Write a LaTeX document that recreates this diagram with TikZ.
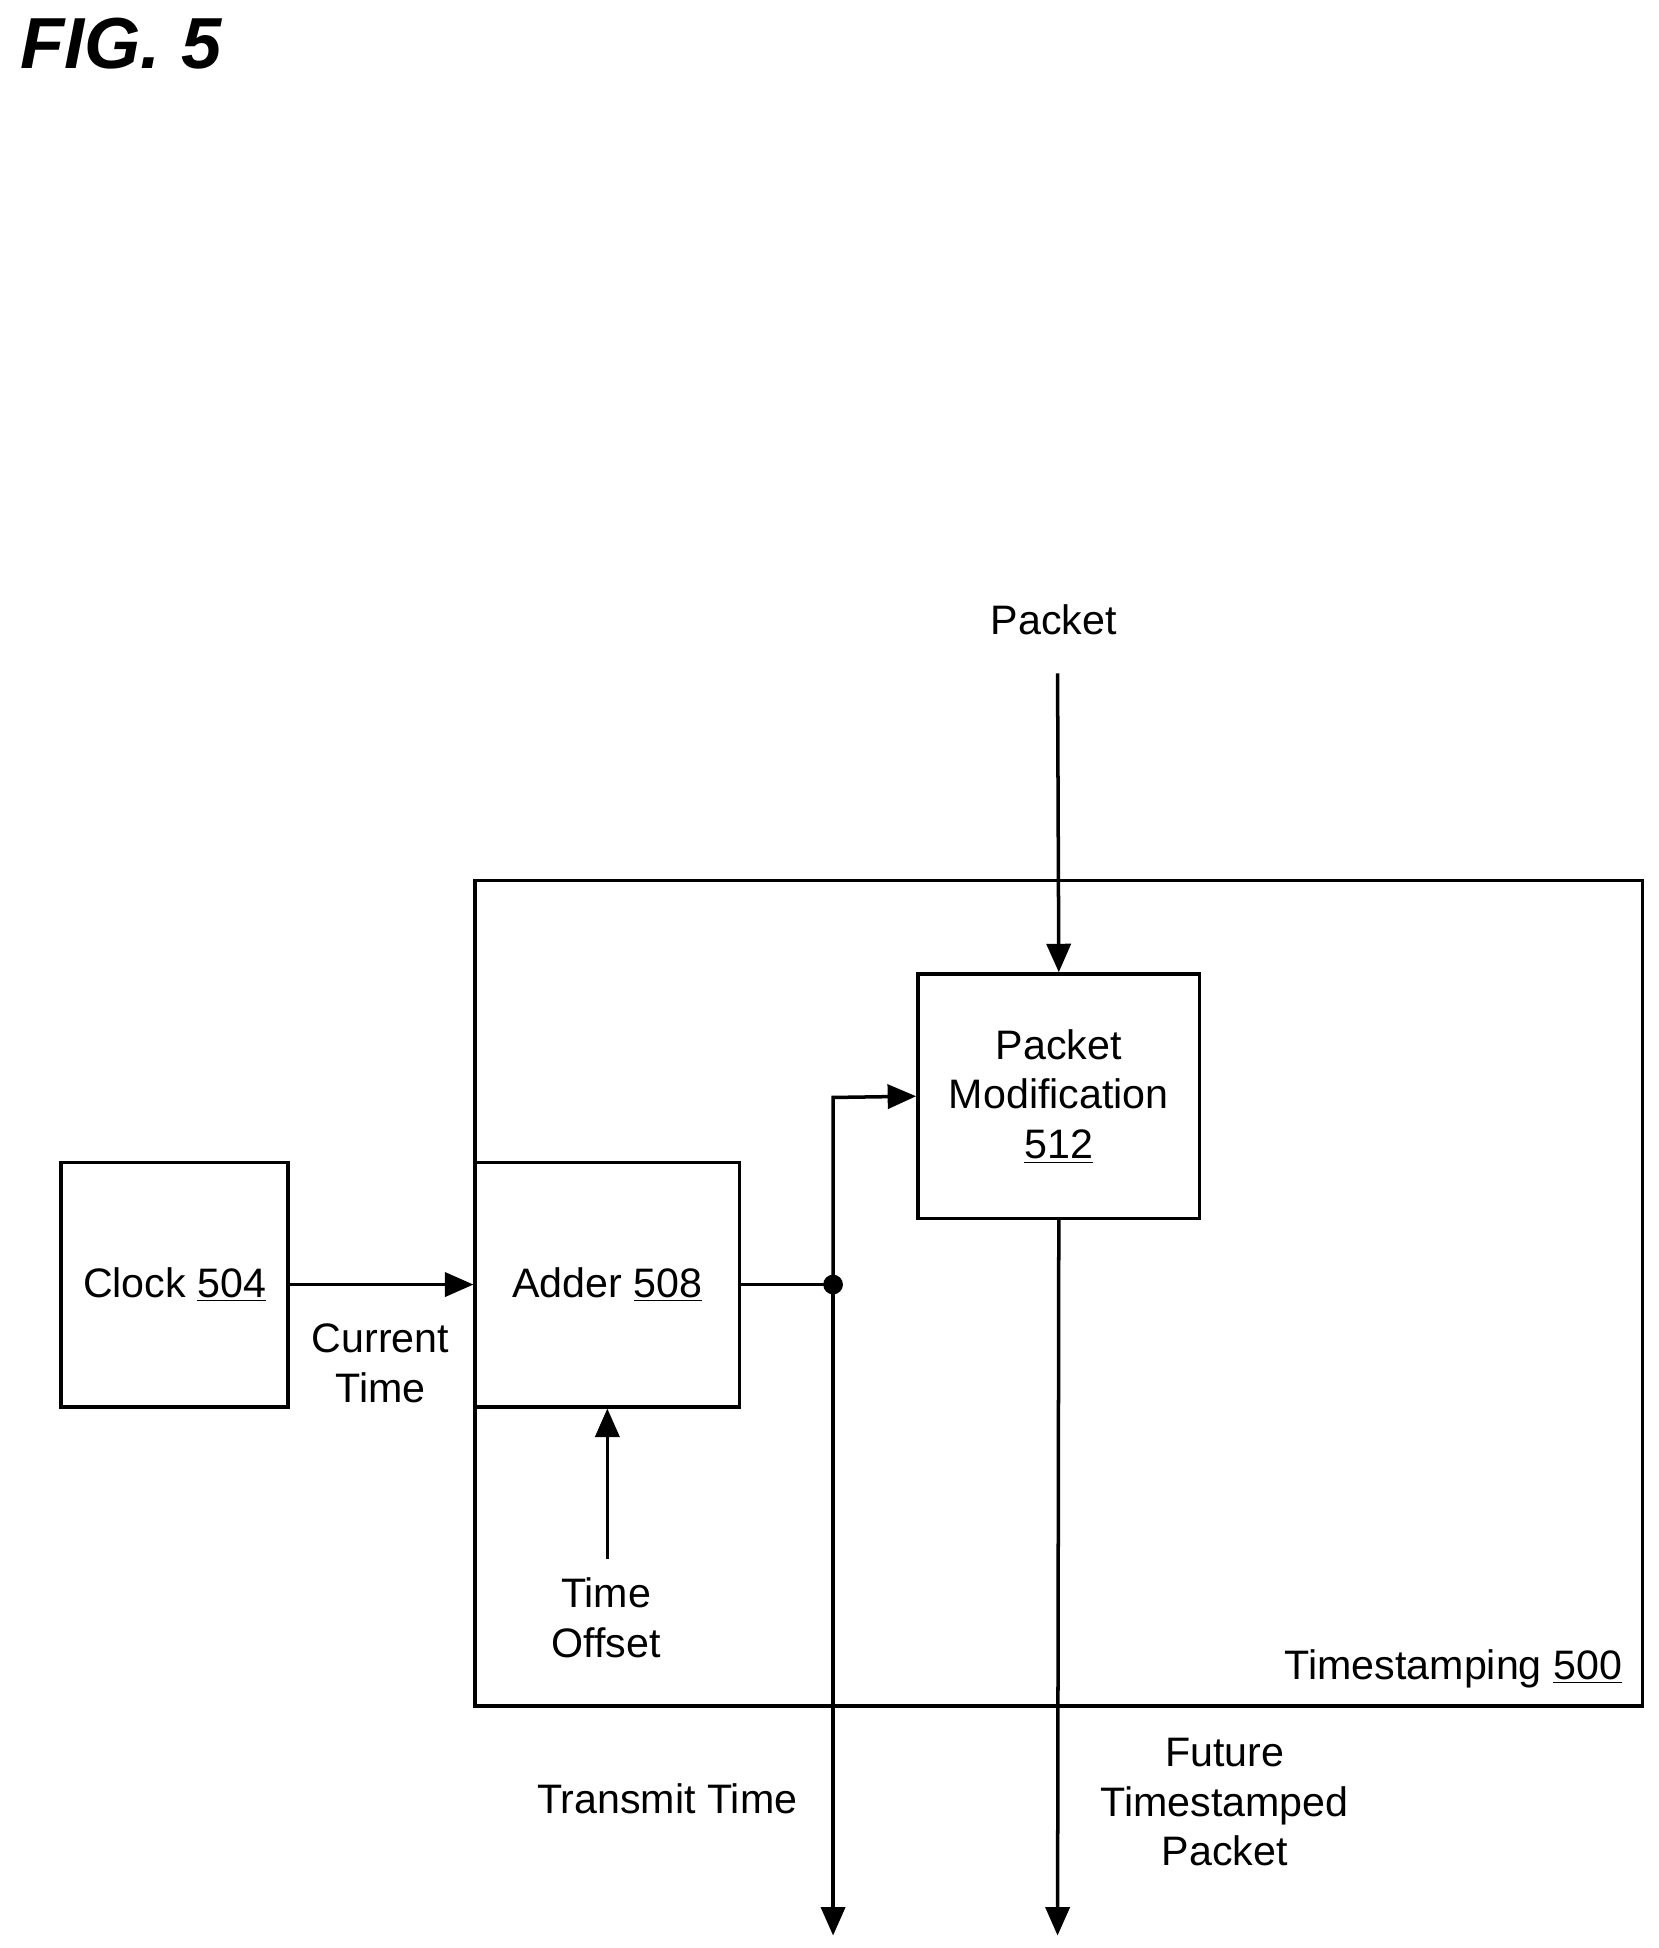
\documentclass[tikz,border=0pt]{standalone}
\usepackage{fontspec}
\setmainfont{Liberation Sans}
\usetikzlibrary{arrows.meta}
\begin{document}
\begin{tikzpicture}[x=0.02cm,y=-0.02cm,
  box/.style={draw,line width=1.6pt,inner sep=0},
  ln/.style={line width=1.6pt},
  ar/.style={ln,-{Triangle[length=13pt,width=11pt]}},
  lbl/.style={font=\fontsize{18.8}{22.7}\selectfont,align=center,inner sep=0}]
\useasboundingbox (0,0) rectangle (1330,1562);
\node[anchor=north west,inner sep=0,font=\fontsize{33}{33}\selectfont\itshape\bfseries] (fig) at (16,14) {FIG. 5};
\draw[box] (381,706) rectangle (1317,1368);
\node[box,minimum width=226*0.02cm,minimum height=196*0.02cm] (pm) at (849,879) {};
\node[lbl] (pmt) at (849,879) {Packet\\Modification\\\underline{512}};
\node[box,minimum width=182*0.02cm,minimum height=196*0.02cm] (clk) at (140,1030) {};
\node[lbl] at (140,1030) {Clock \underline{504}};
\node[box,minimum width=212*0.02cm,minimum height=196*0.02cm] (add) at (487,1030) {};
\node[lbl] at (487,1030) {Adder \underline{508}};
\node[lbl] (pk) at (845,497) {Packet};
\coordinate (pktop) at (848,540);
\draw[ar] (pktop) -- (pm.north);
\draw[ar] (clk.east) -- (add.west);
\node[lbl] (ct) at (305,1093) {Current\\Time};
\coordinate (to) at (487,1250);
\draw[ar] (to) -- (add.south);
\node[lbl] (tol) at (486,1297) {Time\\Offset};
\coordinate (dot) at (668,1030);
\draw[ln] (add.east) -- (dot);
\fill (dot) circle (4.5pt);
\coordinate (up) at (668,880);
\draw[ar] (dot) -- (up) -- (pm.west);
\coordinate (tb) at (668,1552);
\draw[ar] (dot) -- (tb);
\coordinate (fb) at (848,1552);
\draw[ar] (pm.south) -- (fb);
\node[lbl] (tt) at (535,1442) {Transmit Time};
\node[lbl] (ft) at (982,1445) {Future\\Timestamped\\Packet};
\node[lbl,anchor=east] (ts) at (1301,1338) {Timestamping \underline{500}};
\end{tikzpicture}
\end{document}
